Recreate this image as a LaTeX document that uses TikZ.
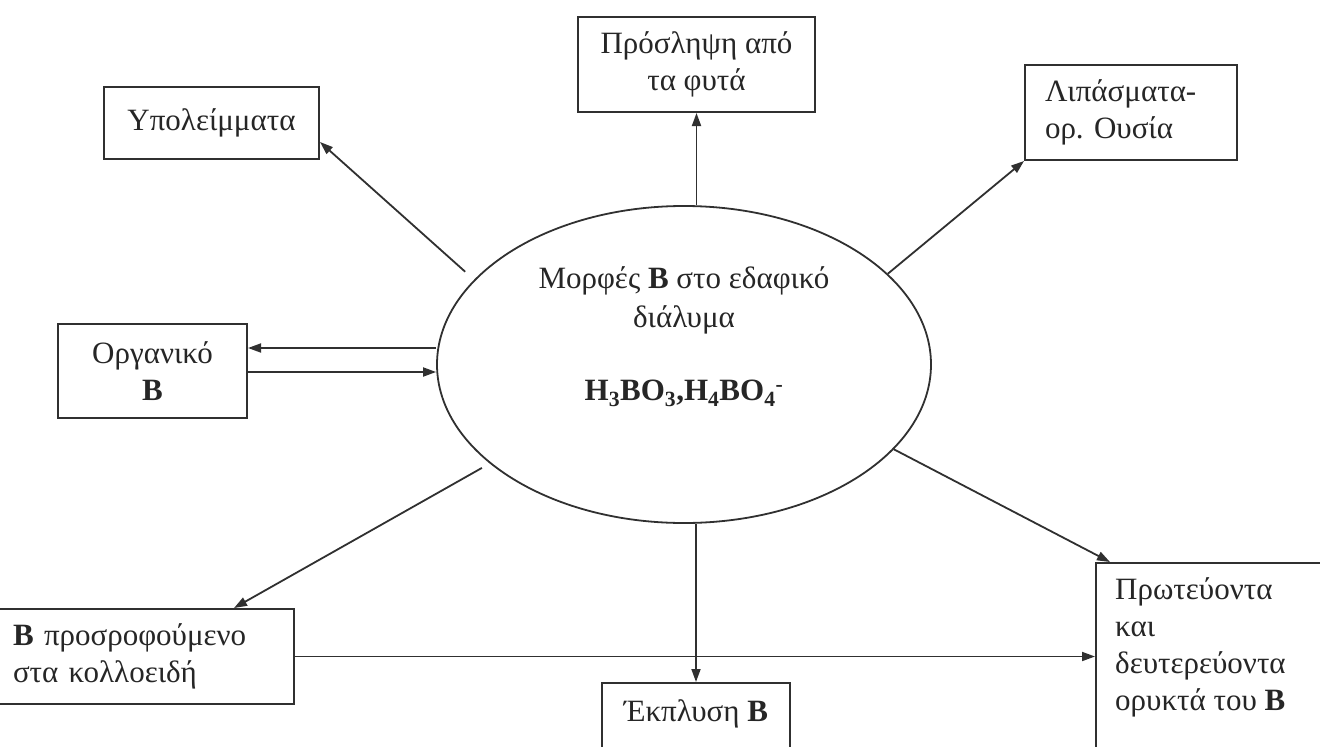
\documentclass[tikz,border=0pt]{standalone}
\usepackage{fontspec}
\setmainfont{Liberation Serif}
\usetikzlibrary{shapes.geometric,arrows.meta,calc}
\definecolor{linec}{HTML}{303030}
\definecolor{txtc}{HTML}{262626}
\newcommand{\fsz}{\fontsize{31}{37}\selectfont}
\newcommand{\fszb}{\fontsize{31}{39}\selectfont}
\frenchspacing
\tikzset{
  box/.style={draw=linec, line width=2pt, rectangle, inner sep=0pt, font=\fsz, text=txtc},
  arr/.style={draw=linec, line width=1.8pt, -{Triangle[length=13pt,width=9pt]}},
  lbl/.style={font=\fsz, text=txtc, inner sep=0pt, align=left},
}
\begin{document}
\begin{tikzpicture}[x=1pt,y=-1pt]
\fill[white] (0,0) rectangle (1320,747);
\useasboundingbox (0,0) rectangle (1320,747);

% central ellipse
\node[draw=linec, line width=1.8pt, ellipse, minimum width=494pt, minimum height=317pt, inner sep=0pt] (sol) at (684,364.5) {};
\node[lbl, align=center, font=\fszb] (solt) at (684,337) {Μορφές \textbf{B} στο εδαφικό\\διάλυμα\\[34pt]\textbf{H\textsubscript{3}BO\textsubscript{3},H\textsubscript{4}BO\textsubscript{4}\textsuperscript{-}}};

% boxes
\node[box, minimum width=215pt, minimum height=72pt] (upol) at (211.5,123) {Υπολείμματα};
\node[box, minimum width=237pt, minimum height=95pt, align=center] (pros) at (696.5,64.5) {Πρόσληψη από\\τα φυτά};
\node[box, minimum height=95pt, align=left, text width=172pt, inner xsep=20pt] (lip) at (1131,112.5) {Λιπάσματα-\\ορ. Ουσία};
\node[box, minimum width=189pt, minimum height=94pt, align=center] (org) at (152.5,371) {Οργανικό\\\textbf{B}};
\node[box, minimum height=95pt, align=left, text width=263pt, inner xsep=18pt] (ads) at (144.5,656.5) {\textbf{B} προσροφούμενο\\στα κολλοειδή};
\node[box, anchor=north, minimum width=188pt, minimum height=100pt] (ekp) at (696,682) {};
\node[lbl] (ekpt) at (696,714) {Έκπλυση \textbf{B}};
\node[box, anchor=north west, minimum width=260pt, minimum height=220pt] (prim) at (1095,562) {};
\node[lbl, anchor=north west] (primt) at (1115,577) {Πρωτεύοντα\\και\\δευτερεύοντα\\ορυκτά του \textbf{B}};

% helper coordinates
\coordinate (u1) at ([yshift=-19pt]upol.east);
\coordinate (o1) at ([yshift=23pt]org.east);
\coordinate (o2) at ([yshift=-1pt]org.east);
\coordinate (a1) at ([xshift=-61pt]ads.north east);
\coordinate (p1) at ([xshift=15pt]prim.north west);

% connectors
\draw[arr, shorten <=12pt] (sol.158) -- (u1);
\draw[arr] (pros.south |- sol.north) -- (pros.south);
\draw[arr] (sol.24) -- (lip.south west);
\draw[arr] (o1 -| sol.west) -- (o1);
\draw[arr] (o2) -- (o2 -| sol.west);
\draw[arr, shorten <=9pt] (sol.207) -- (a1);
\draw[arr] (ekp.north |- sol.south) -- (ekp.north);
\draw[arr] (sol.338) -- (p1);
\draw[arr] (ads.east) -- (ads.east -| prim.west);
\end{tikzpicture}
\end{document}
